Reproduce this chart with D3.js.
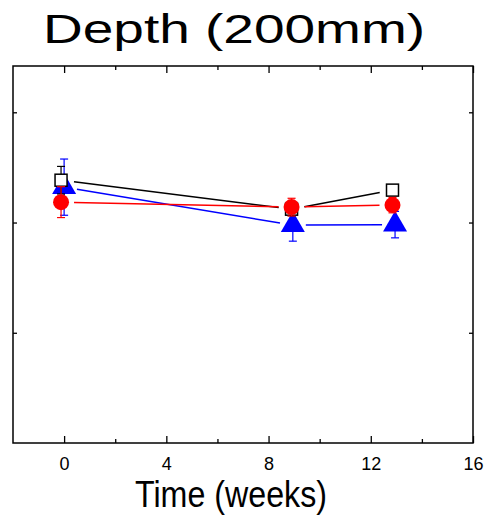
<!DOCTYPE html>
<html>
<head>
<meta charset="utf-8">
<script src="https://cdn.jsdelivr.net/npm/d3@7"></script>
<style>
  body { margin: 0; background: #fff; }
  text { font-family: "Liberation Sans", Arial, sans-serif; }
</style>
</head>
<body>
<div id="plot"></div>
<script>
// data (y has no labels, units are tick steps)
const xTicks = [0, 4, 8, 12, 16];
const xMinorTicks = [2, 6, 10, 14];
const yTicks = [1, 2, 3];

const triWeeks = [0, 8.95, 12.95];
const triVals = [2.321, 1.976, 1.981];
const triErr = [0.255, 0.145, 0.12];

const sqWeeks = [-0.12, 8.9, 12.85];
const sqVals = [2.384, 2.121, 2.294];
const sqErr = [0.125, 0.06, 0.04];

const circWeeks = [-0.12, 8.9, 12.85];
const circVals = [2.185, 2.140, 2.158];
const circErr = [0.14, 0.08, 0.07];

const W = 487, H = 518;
const box = {left: 13, right: 473, top: 66, bottom: 443};

const svg = d3.select('#plot')
  .append("svg")
    .attr("width", W)
    .attr("height", H);

const x = d3.scaleLinear().domain([-2, 16]).range([box.left, box.right]);
const y = d3.scaleLinear().domain([0, 3.42]).range([box.bottom, box.top]);

// axes, ticks pointing inward
const bottom = svg.append("g").attr("transform", `translate(0,${box.bottom})`)
  .call(d3.axisBottom(x).tickValues(xTicks).tickSizeInner(-7).tickSizeOuter(0).tickPadding(14));
bottom.selectAll("text").style("font-size", "18px").attr("fill", "#000");
svg.append("g").attr("transform", `translate(0,${box.bottom})`)
  .call(d3.axisBottom(x).tickValues(xMinorTicks).tickSizeInner(-4).tickSizeOuter(0).tickFormat(""));
svg.append("g").attr("transform", `translate(0,${box.top})`)
  .call(d3.axisTop(x).tickValues(xTicks).tickSizeInner(-7).tickSizeOuter(0).tickFormat(""));
svg.append("g").attr("transform", `translate(0,${box.top})`)
  .call(d3.axisTop(x).tickValues(xMinorTicks).tickSizeInner(-4).tickSizeOuter(0).tickFormat(""));
svg.append("g").attr("transform", `translate(${box.left},0)`)
  .call(d3.axisLeft(y).tickValues(yTicks).tickSizeInner(-4).tickSizeOuter(0).tickFormat(""));
svg.append("g").attr("transform", `translate(${box.right},0)`)
  .call(d3.axisRight(y).tickValues(yTicks).tickSizeInner(-4).tickSizeOuter(0).tickFormat(""));
svg.selectAll(".domain").remove();
svg.selectAll(".tick line").attr("stroke", "#000").attr("stroke-width", 1.3);

svg.append("rect")
  .attr("x", box.left).attr("y", box.top)
  .attr("width", box.right - box.left).attr("height", box.bottom - box.top)
  .attr("fill", "none").attr("stroke", "#000").attr("stroke-width", 1.5);

// title and x label
svg.append("text")
  .attr("x", 234).attr("y", 43)
  .attr("text-anchor", "middle")
  .attr("textLength", 382).attr("lengthAdjust", "spacingAndGlyphs")
  .style("font-size", "40px")
  .text("Depth (200mm)");

svg.append("text")
  .attr("x", 231).attr("y", 507)
  .attr("text-anchor", "middle")
  .attr("textLength", 192).attr("lengthAdjust", "spacingAndGlyphs")
  .style("font-size", "37px")
  .text("Time (weeks)");

const series = [
  {weeks: triWeeks, vals: triVals, err: triErr, color: "#0000ff", shape: "tri"},
  {weeks: sqWeeks, vals: sqVals, err: sqErr, color: "#000000", shape: "sq"},
  {weeks: circWeeks, vals: circVals, err: circErr, color: "#ff0000", shape: "circ"}
];

const gap = 13;

series.forEach(function(s) {
  const pts = s.weeks.map((w, i) => ({w: w, v: s.vals[i], e: s.err[i]}));
  const g = svg.append("g");

  // connecting lines, cut short near the markers
  for (let i = 0; i < pts.length - 1; i++) {
    const x0 = x(pts[i].w), y0 = y(pts[i].v), x1 = x(pts[i+1].w), y1 = y(pts[i+1].v);
    const len = Math.hypot(x1 - x0, y1 - y0);
    const ux = (x1 - x0) / len, uy = (y1 - y0) / len;
    g.append("line")
      .attr("x1", x0 + ux * gap).attr("y1", y0 + uy * gap)
      .attr("x2", x1 - ux * gap).attr("y2", y1 - uy * gap)
      .attr("stroke", s.color).attr("stroke-width", 1.5);
  }

  // error bars
  const eb = g.selectAll(".eb").data(pts).join("g")
    .attr("stroke", s.color).attr("stroke-width", 1.2);
  eb.append("line")
    .attr("x1", d => x(d.w)).attr("x2", d => x(d.w))
    .attr("y1", d => y(d.v + d.e)).attr("y2", d => y(d.v - d.e));
  eb.append("line")
    .attr("x1", d => x(d.w) - 4).attr("x2", d => x(d.w) + 4)
    .attr("y1", d => y(d.v + d.e)).attr("y2", d => y(d.v + d.e));
  eb.append("line")
    .attr("x1", d => x(d.w) - 4).attr("x2", d => x(d.w) + 4)
    .attr("y1", d => y(d.v - d.e)).attr("y2", d => y(d.v - d.e));

  // markers
  if (s.shape === "tri") {
    g.selectAll(".m").data(pts).join("path")
      .attr("d", d3.symbol(d3.symbolTriangle, 250))
      .attr("transform", d => `translate(${x(d.w)},${y(d.v)})`)
      .attr("fill", s.color);
  } else if (s.shape === "sq") {
    g.selectAll(".m").data(pts).join("rect")
      .attr("x", d => x(d.w) - 6).attr("y", d => y(d.v) - 6)
      .attr("width", 12).attr("height", 12)
      .attr("fill", "#fff").attr("stroke", s.color).attr("stroke-width", 1.5);
  } else {
    g.selectAll(".m").data(pts).join("circle")
      .attr("cx", d => x(d.w)).attr("cy", d => y(d.v)).attr("r", 8)
      .attr("fill", s.color);
  }
});
</script>
</body>
</html>
